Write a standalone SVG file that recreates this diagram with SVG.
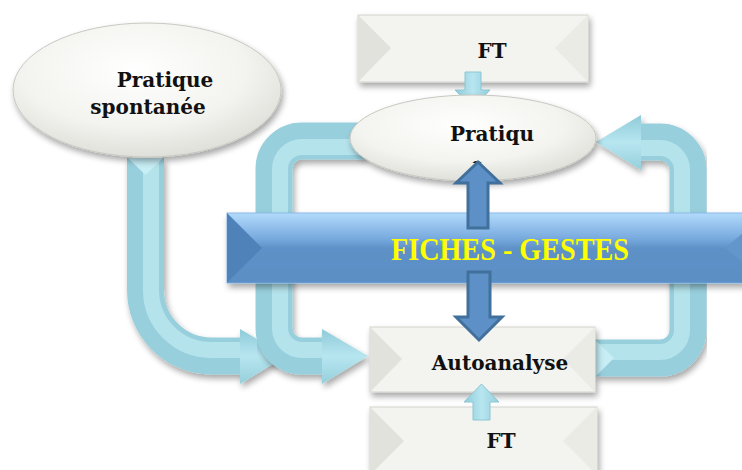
<svg xmlns="http://www.w3.org/2000/svg" width="742" height="470" viewBox="0 0 742 470">
<defs>
<filter id="sh" x="-20%" y="-20%" width="140%" height="150%">
<feGaussianBlur in="SourceAlpha" stdDeviation="3"/>
<feOffset dx="2" dy="4" result="b"/>
<feComponentTransfer><feFuncA type="linear" slope="0.35"/></feComponentTransfer>
<feMerge><feMergeNode/><feMergeNode in="SourceGraphic"/></feMerge>
</filter>
<radialGradient id="ell" cx="0.45" cy="0.35" r="0.7">
<stop offset="0" stop-color="#ffffff"/>
<stop offset="0.6" stop-color="#f3f3ef"/>
<stop offset="1" stop-color="#dcdcd6"/>
</radialGradient>
<linearGradient id="band" x1="0" y1="0" x2="0" y2="1">
<stop offset="0" stop-color="#b3dafb"/>
<stop offset="0.35" stop-color="#7aace0"/>
<stop offset="0.5" stop-color="#5f93c8"/>
<stop offset="1" stop-color="#5b8fc4"/>
</linearGradient>
<linearGradient id="head" x1="0" y1="0" x2="0" y2="1">
<stop offset="0" stop-color="#8fcbd9"/>
<stop offset="0.5" stop-color="#b7e6f0"/>
<stop offset="1" stop-color="#95cfdc"/>
</linearGradient>
<linearGradient id="headv" x1="0" y1="0" x2="1" y2="0">
<stop offset="0" stop-color="#8fcbd9"/>
<stop offset="0.5" stop-color="#b7e6f0"/>
<stop offset="1" stop-color="#95cfdc"/>
</linearGradient>
<clipPath id="eclip"><rect x="440" y="100" width="80" height="63"/></clipPath>
</defs>
<style>
.pipe{fill:none;stroke:#98cfdc;stroke-width:37}
.hl{fill:none;stroke:#b4e3ec;stroke-width:16}
.lbl{font-family:"DejaVu Serif","Liberation Serif",serif;font-weight:bold;font-size:20px;fill:#111;text-anchor:middle}
.box{fill:#f3f3ef;stroke:#d3d3ce;stroke-width:1}
.bl{fill:#e2e2dc}
.br{fill:#ebebe6}
.ell{fill:url(#ell);stroke:#c8c8c2;stroke-width:1}
.barrow{fill:#5d90c6;stroke:#41709c;stroke-width:3}
.sarrow{fill:url(#headv);stroke:#8cc6d4;stroke-width:1}
</style>

<g id="connectors">
<g filter="url(#sh)">
<path class="pipe" d="M145.5 158 L145.5 290 A66 66 0 0 0 211.5 356 L242 356"/>
<path class="hl" d="M151 158 L151 290 A60 60 0 0 0 211 350 L242 350"/>
<polygon points="240,329 286,356 240,384" fill="url(#head)"/>
<polygon points="145.5,175 128,158 163,158" fill="#c7eef5"/>
</g>
<g filter="url(#sh)">
<path class="pipe" d="M365 141 L302 141 A28 28 0 0 0 274 169 L274 328 A28 28 0 0 0 302 356 L324 356"/>
<path class="hl" d="M365 147 L302 147 A22 22 0 0 0 280 169 L280 328 A22 22 0 0 0 302 350 L324 350"/>
<polygon points="322,329 368,356 322,384" fill="url(#head)"/>
</g>
<g filter="url(#sh)">
<path class="pipe" d="M595 358 L660 358 A28 28 0 0 0 688 330 L688 170 A28 28 0 0 0 660 142 L638 142"/>
<path class="hl" d="M600 352 L660 352 A22 22 0 0 0 682 330 L682 170 A22 22 0 0 0 660 148 L638 148"/>
<polygon points="641,115 596,142 641,170" fill="url(#head)"/>
<polygon points="595,340 614,358 595,377" fill="#c7eef5"/>
</g>
</g>

<g id="pratique-spontanee">
<ellipse class="ell" cx="147" cy="90" rx="134" ry="67" filter="url(#sh)"/>
<text class="lbl" x="165" y="87">Pratique</text>
<text class="lbl" x="148" y="114">spontanée</text>
</g>

<g id="ft-top">
<g filter="url(#sh)">
<rect class="box" x="358" y="15" width="230" height="67"/>
<polygon class="bl" points="358,15 391,48 358,82"/>
<polygon class="br" points="588,15 555,48 588,82"/>
</g>
<text class="lbl" x="492" y="58">FT</text>
</g>

<g id="arrow-ft-pratique">
<polygon class="sarrow" points="465,72 481,72 481,90 490,90 473,108 455,90 465,90"/>
</g>

<g id="pratique">
<ellipse class="ell" cx="473" cy="138" rx="123" ry="43" filter="url(#sh)"/>
<text class="lbl" x="492" y="141">Pratiqu</text>
<text class="lbl" x="477" y="172" clip-path="url(#eclip)">e</text>
</g>

<g id="autoanalyse">
<g filter="url(#sh)">
<rect class="box" x="370" y="327" width="225" height="65"/>
<polygon class="bl" points="370,327 402,359 370,392"/>
<polygon class="br" points="595,327 563,359 595,392"/>
</g>
<text class="lbl" x="500" y="370">Autoanalyse</text>
</g>

<g id="ft-bottom">
<g filter="url(#sh)">
<rect class="box" x="370" y="407" width="227" height="70"/>
<polygon class="bl" points="370,407 404,441 370,475"/>
<polygon class="br" points="597,407 563,441 597,475"/>
</g>
<text class="lbl" x="501" y="448">FT</text>
</g>

<g id="arrow-ft-autoanalyse">
<polygon class="sarrow" points="473,420 490,420 490,402 499,402 481.5,384 464,402 473,402"/>
</g>

<g id="fiches-gestes">
<g filter="url(#sh)">
<rect x="227" y="213" width="540" height="70" fill="url(#band)" stroke="#8ab9e6" stroke-width="1"/>
<polygon points="227,213 262,248 227,283" fill="#4f82b9"/>
<polygon points="767,213 725,248 767,283" fill="#6496ca"/>
<polygon points="262,248 725,248 767,283 227,283" fill="#5c90c5" opacity="0.5"/>
</g>
<text x="510" y="260" text-anchor="middle" font-family="'Liberation Serif',serif" font-weight="bold" font-size="31" fill="#ffff00" textLength="238" lengthAdjust="spacingAndGlyphs">FICHES - GESTES</text>
</g>

<g id="blue-arrows">
<polygon class="barrow" points="468,228 488,228 488,183 500,183 478,162 456,183 468,183"/>
<polygon class="barrow" points="468,272 490,272 490,317 502,317 479,340 456,317 468,317"/>
</g>
</svg>
